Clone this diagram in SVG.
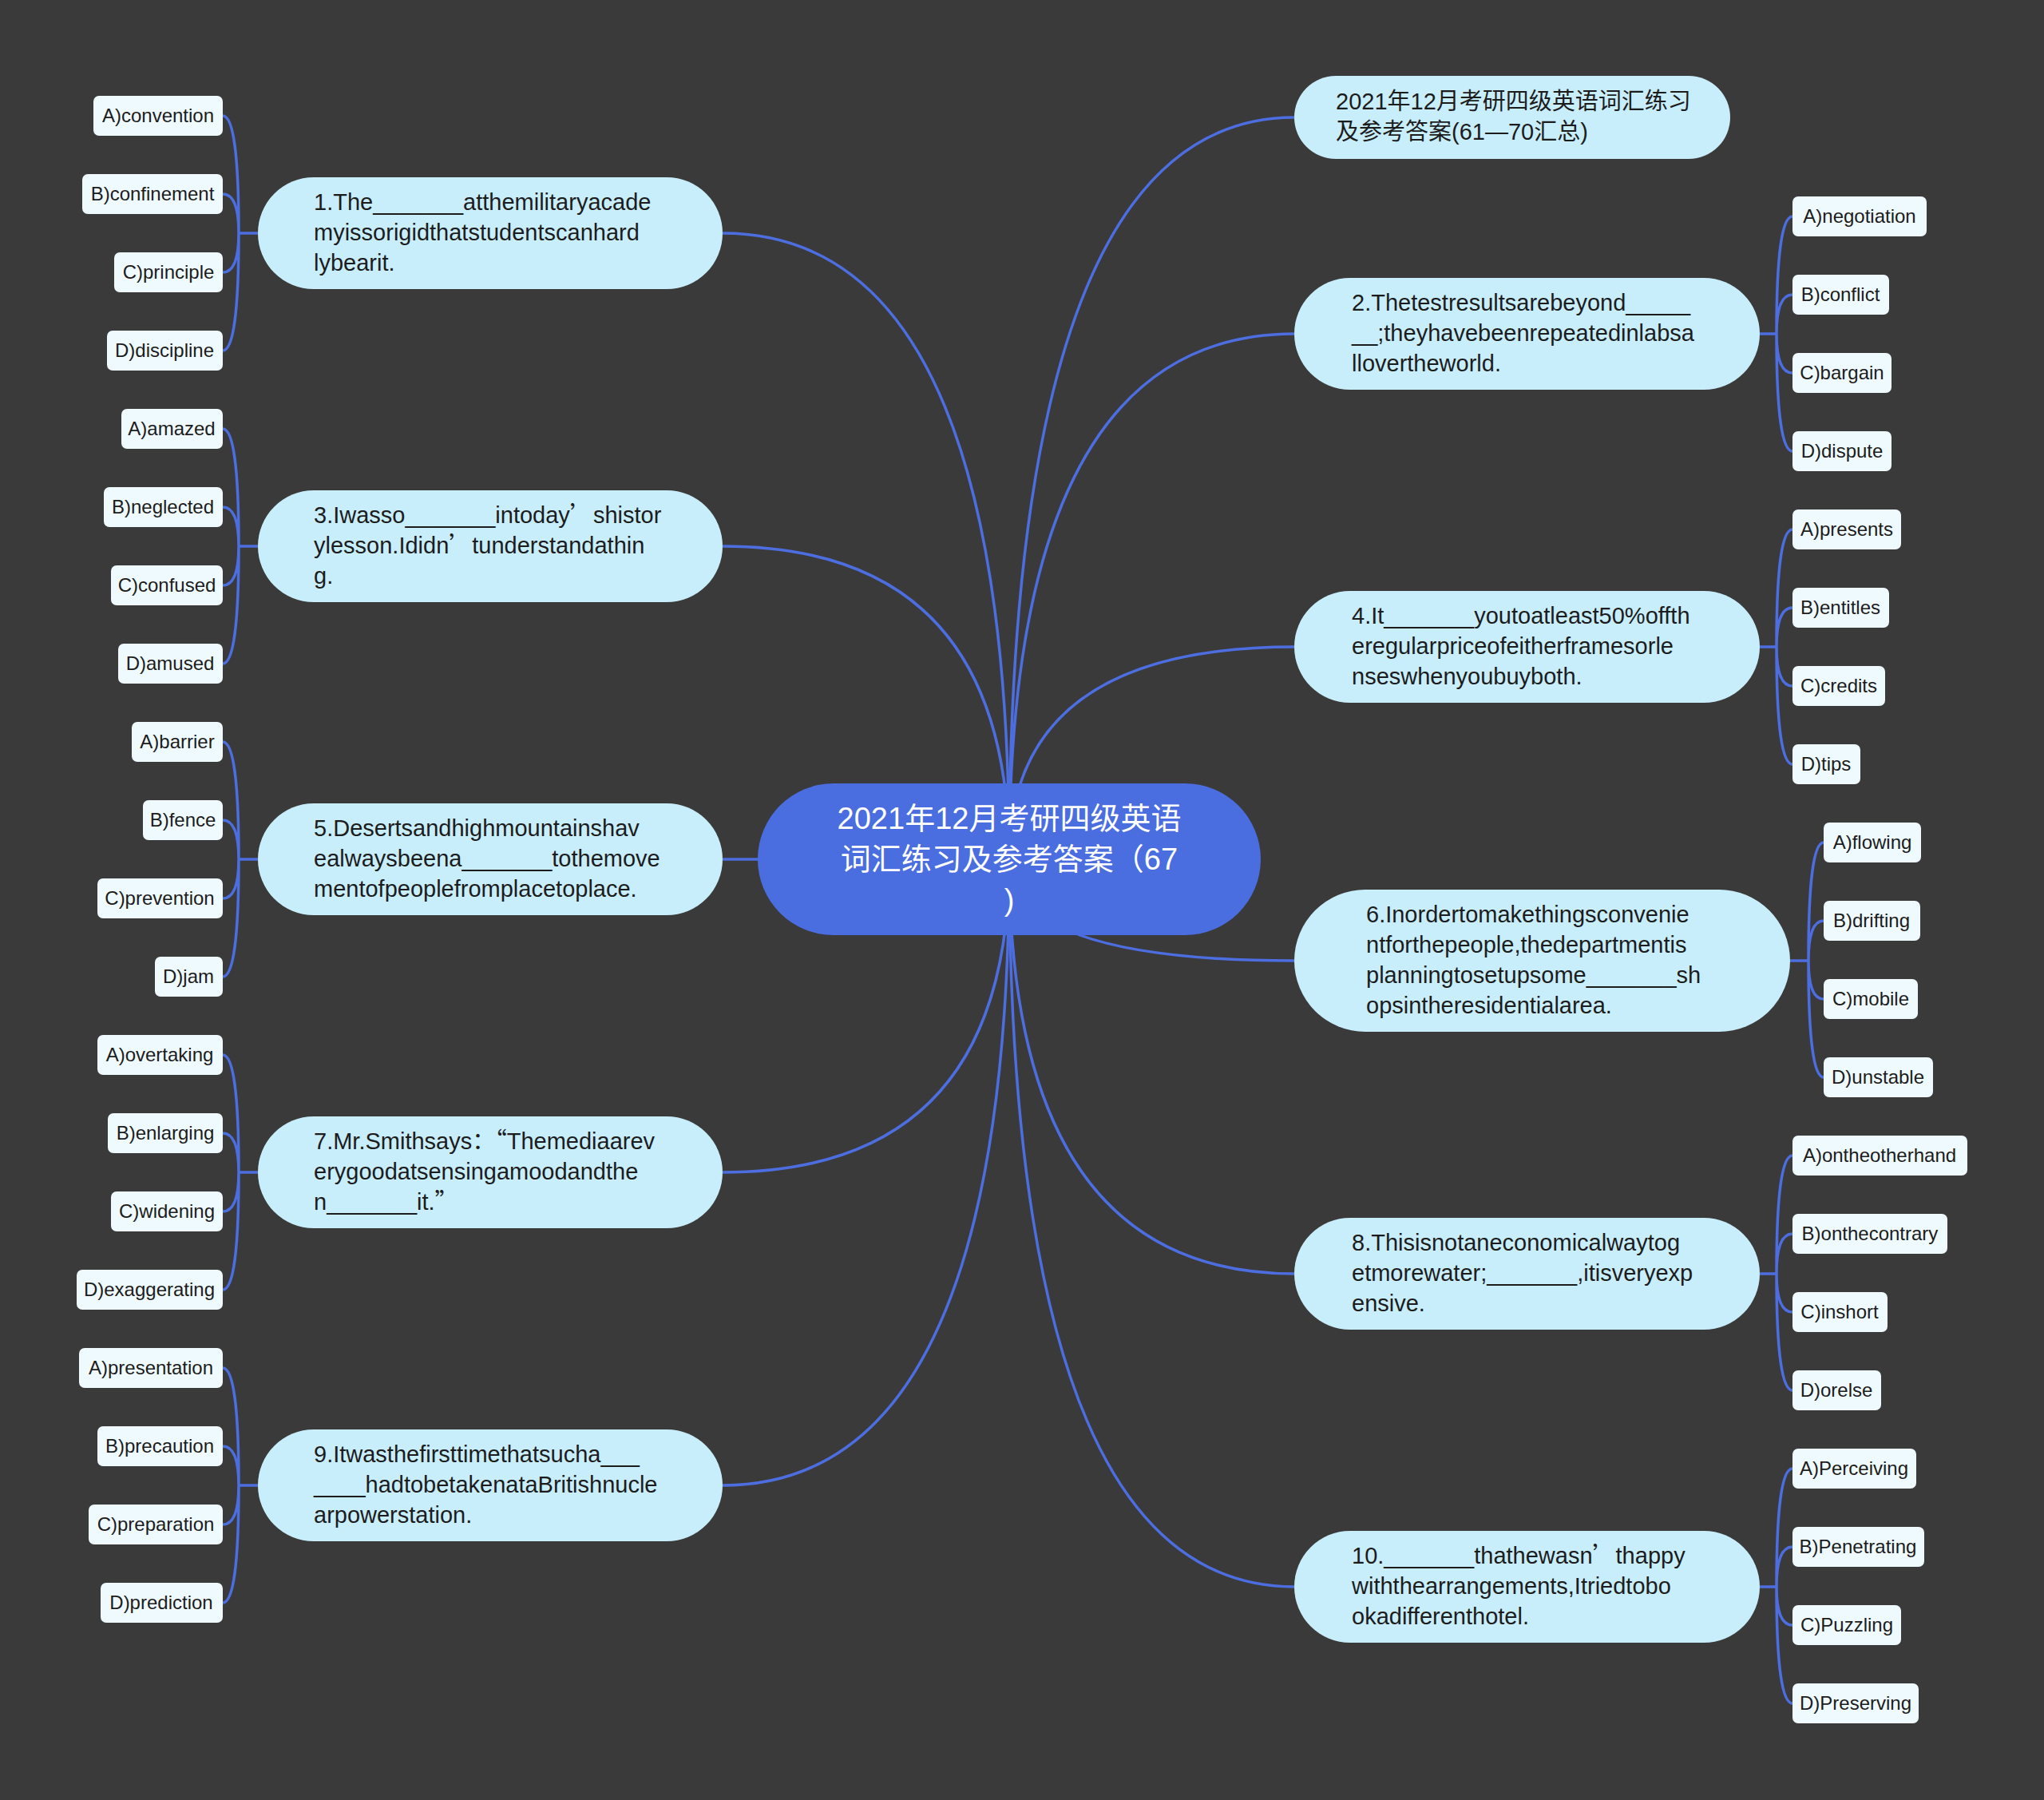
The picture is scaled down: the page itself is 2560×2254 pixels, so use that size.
<svg xmlns="http://www.w3.org/2000/svg" width="2560" height="2254" viewBox="0 0 2560 2254">
<style>
.c{fill:none;stroke:#4D6EE0;stroke-width:3.5}
.n1 rect{fill:#C8EEFC}
.lf rect{fill:#EFFAFE}
text{font-family:"Liberation Sans","Noto Sans CJK SC",sans-serif;fill:#1c1c1c}
.n1 text{font-size:29px}
.lf text{font-size:24px;text-anchor:middle}
.ct text{font-size:38px;fill:#ffffff;text-anchor:middle}
.cjk{font-family:"Noto Sans CJK SC",sans-serif}
</style>
<rect width="2560" height="2254" fill="#3a3a3a"/>
<g id="connectors">
<path class="c" d="M1264,1076 Q1264,292 905,292"/>
<path class="c" d="M1264,1076 Q1264,684 905,684"/>
<path class="c" d="M1264,1076 L905,1076"/>
<path class="c" d="M1264,1076 Q1264,1468 905,1468"/>
<path class="c" d="M1264,1076 Q1264,1860 905,1860"/>
<path class="c" d="M1264,1076 Q1264,147 1621,147"/>
<path class="c" d="M1264,1076 Q1264,418 1621,418"/>
<path class="c" d="M1264,1076 Q1264,810 1621,810"/>
<path class="c" d="M1264,1076 Q1264,1203 1621,1203"/>
<path class="c" d="M1264,1076 Q1264,1595 1621,1595"/>
<path class="c" d="M1264,1076 Q1264,1987 1621,1987"/>
<path class="c" d="M323,292 L299,292 Q299,145 279,145 M299,292 Q299,243 279,243 M299,292 Q299,341 279,341 M299,292 Q299,439 279,439"/>
<path class="c" d="M323,684 L299,684 Q299,537 279,537 M299,684 Q299,635 279,635 M299,684 Q299,733 279,733 M299,684 Q299,831 279,831"/>
<path class="c" d="M323,1076 L299,1076 Q299,929 279,929 M299,1076 Q299,1027 279,1027 M299,1076 Q299,1125 279,1125 M299,1076 Q299,1223 279,1223"/>
<path class="c" d="M323,1468 L299,1468 Q299,1321 279,1321 M299,1468 Q299,1419 279,1419 M299,1468 Q299,1517 279,1517 M299,1468 Q299,1615 279,1615"/>
<path class="c" d="M323,1860 L299,1860 Q299,1713 279,1713 M299,1860 Q299,1811 279,1811 M299,1860 Q299,1909 279,1909 M299,1860 Q299,2007 279,2007"/>
<path class="c" d="M2204,418 L2225,418 Q2225,271 2245,271 M2225,418 Q2225,369 2245,369 M2225,418 Q2225,467 2245,467 M2225,418 Q2225,565 2245,565"/>
<path class="c" d="M2204,810 L2225,810 Q2225,663 2245,663 M2225,810 Q2225,761 2245,761 M2225,810 Q2225,859 2245,859 M2225,810 Q2225,957 2245,957"/>
<path class="c" d="M2242,1203 L2265,1203 Q2265,1055 2284,1055 M2265,1203 Q2265,1153 2284,1153 M2265,1203 Q2265,1251 2284,1251 M2265,1203 Q2265,1349 2284,1349"/>
<path class="c" d="M2204,1595 L2225,1595 Q2225,1447 2245,1447 M2225,1595 Q2225,1545 2245,1545 M2225,1595 Q2225,1643 2245,1643 M2225,1595 Q2225,1741 2245,1741"/>
<path class="c" d="M2204,1987 L2225,1987 Q2225,1839 2245,1839 M2225,1987 Q2225,1937 2245,1937 M2225,1987 Q2225,2035 2245,2035 M2225,1987 Q2225,2133 2245,2133"/>
</g>
<g id="center" class="ct">
<rect x="949" y="981" width="630" height="190" rx="95" fill="#4A6EE0"/>
<text x="1264" y="1038">2021年12月考研四级英语</text>
<text x="1264" y="1089">词汇练习及参考答案（67</text>
<text x="1264" y="1140">)</text>
</g>
<g id="n-title" class="n1"><rect x="1621" y="95" width="546" height="104" rx="52"/>
<text x="1673" y="137">2021年12月考研四级英语词汇练习</text><text x="1673" y="175">及参考答案(61—70汇总)</text></g>
<g id="n1" class="n1"><rect x="323" y="222" width="582" height="140" rx="70"/>
<text x="393" y="263">1.The_______atthemilitaryacade</text><text x="393" y="301">myissorigidthatstudentscanhard</text><text x="393" y="339">lybearit.</text></g>
<g id="n3" class="n1"><rect x="323" y="614" width="582" height="140" rx="70"/>
<text x="393" y="655">3.Iwasso_______intoday<tspan class="cjk">’</tspan>shistor</text><text x="393" y="693">ylesson.Ididn<tspan class="cjk">’</tspan>tunderstandathin</text><text x="393" y="731">g.</text></g>
<g id="n5" class="n1"><rect x="323" y="1006" width="582" height="140" rx="70"/>
<text x="393" y="1047">5.Desertsandhighmountainshav</text><text x="393" y="1085">ealwaysbeena_______tothemove</text><text x="393" y="1123">mentofpeoplefromplacetoplace.</text></g>
<g id="n7" class="n1"><rect x="323" y="1398" width="582" height="140" rx="70"/>
<text x="393" y="1439">7.Mr.Smithsays<tspan class="cjk">：“</tspan>Themediaarev</text><text x="393" y="1477">erygoodatsensingamoodandthe</text><text x="393" y="1515">n_______it.<tspan class="cjk">”</tspan></text></g>
<g id="n9" class="n1"><rect x="323" y="1790" width="582" height="140" rx="70"/>
<text x="393" y="1831">9.Itwasthefirsttimethatsucha___</text><text x="393" y="1869">____hadtobetakenataBritishnucle</text><text x="393" y="1907">arpowerstation.</text></g>
<g id="n2" class="n1"><rect x="1621" y="348" width="583" height="140" rx="70"/>
<text x="1693" y="389">2.Thetestresultsarebeyond_____</text><text x="1693" y="427">__;theyhavebeenrepeatedinlabsa</text><text x="1693" y="465">llovertheworld.</text></g>
<g id="n4" class="n1"><rect x="1621" y="740" width="583" height="140" rx="70"/>
<text x="1693" y="781">4.It_______youtoatleast50%offth</text><text x="1693" y="819">eregularpriceofeitherframesorle</text><text x="1693" y="857">nseswhenyoubuyboth.</text></g>
<g id="n6" class="n1"><rect x="1621" y="1114" width="621" height="178" rx="89"/>
<text x="1711" y="1155">6.Inordertomakethingsconvenie</text><text x="1711" y="1193">ntforthepeople,thedepartmentis</text><text x="1711" y="1231">planningtosetupsome_______sh</text><text x="1711" y="1269">opsintheresidentialarea.</text></g>
<g id="n8" class="n1"><rect x="1621" y="1525" width="583" height="140" rx="70"/>
<text x="1693" y="1566">8.Thisisnotaneconomicalwaytog</text><text x="1693" y="1604">etmorewater;_______,itisveryexp</text><text x="1693" y="1642">ensive.</text></g>
<g id="n10" class="n1"><rect x="1621" y="1917" width="583" height="140" rx="70"/>
<text x="1693" y="1958">10._______thathewasn<tspan class="cjk">’</tspan>thappy</text><text x="1693" y="1996">withthearrangements,Itriedtobo</text><text x="1693" y="2034">okadifferenthotel.</text></g>
<g id="l1a" class="lf"><rect x="117" y="120" width="162" height="50" rx="7"/><text x="198" y="153">A)convention</text></g>
<g id="l1b" class="lf"><rect x="103" y="218" width="176" height="50" rx="7"/><text x="191" y="251">B)confinement</text></g>
<g id="l1c" class="lf"><rect x="143" y="316" width="136" height="50" rx="7"/><text x="211" y="349">C)principle</text></g>
<g id="l1d" class="lf"><rect x="134" y="414" width="145" height="50" rx="7"/><text x="206" y="447">D)discipline</text></g>
<g id="l3a" class="lf"><rect x="152" y="512" width="127" height="50" rx="7"/><text x="215" y="545">A)amazed</text></g>
<g id="l3b" class="lf"><rect x="130" y="610" width="149" height="50" rx="7"/><text x="204" y="643">B)neglected</text></g>
<g id="l3c" class="lf"><rect x="139" y="708" width="140" height="50" rx="7"/><text x="209" y="741">C)confused</text></g>
<g id="l3d" class="lf"><rect x="148" y="806" width="131" height="50" rx="7"/><text x="213" y="839">D)amused</text></g>
<g id="l5a" class="lf"><rect x="165" y="904" width="114" height="50" rx="7"/><text x="222" y="937">A)barrier</text></g>
<g id="l5b" class="lf"><rect x="179" y="1002" width="100" height="50" rx="7"/><text x="229" y="1035">B)fence</text></g>
<g id="l5c" class="lf"><rect x="122" y="1100" width="157" height="50" rx="7"/><text x="200" y="1133">C)prevention</text></g>
<g id="l5d" class="lf"><rect x="194" y="1198" width="85" height="50" rx="7"/><text x="236" y="1231">D)jam</text></g>
<g id="l7a" class="lf"><rect x="122" y="1296" width="157" height="50" rx="7"/><text x="200" y="1329">A)overtaking</text></g>
<g id="l7b" class="lf"><rect x="135" y="1394" width="144" height="50" rx="7"/><text x="207" y="1427">B)enlarging</text></g>
<g id="l7c" class="lf"><rect x="139" y="1492" width="140" height="50" rx="7"/><text x="209" y="1525">C)widening</text></g>
<g id="l7d" class="lf"><rect x="96" y="1590" width="183" height="50" rx="7"/><text x="187" y="1623">D)exaggerating</text></g>
<g id="l9a" class="lf"><rect x="99" y="1688" width="180" height="50" rx="7"/><text x="189" y="1721">A)presentation</text></g>
<g id="l9b" class="lf"><rect x="122" y="1786" width="157" height="50" rx="7"/><text x="200" y="1819">B)precaution</text></g>
<g id="l9c" class="lf"><rect x="111" y="1884" width="168" height="50" rx="7"/><text x="195" y="1917">C)preparation</text></g>
<g id="l9d" class="lf"><rect x="126" y="1982" width="153" height="50" rx="7"/><text x="202" y="2015">D)prediction</text></g>
<g id="r2a" class="lf"><rect x="2245" y="246" width="168" height="50" rx="7"/><text x="2329" y="279">A)negotiation</text></g>
<g id="r2b" class="lf"><rect x="2245" y="344" width="121" height="50" rx="7"/><text x="2305" y="377">B)conflict</text></g>
<g id="r2c" class="lf"><rect x="2245" y="442" width="124" height="50" rx="7"/><text x="2307" y="475">C)bargain</text></g>
<g id="r2d" class="lf"><rect x="2245" y="540" width="124" height="50" rx="7"/><text x="2307" y="573">D)dispute</text></g>
<g id="r4a" class="lf"><rect x="2245" y="638" width="136" height="50" rx="7"/><text x="2313" y="671">A)presents</text></g>
<g id="r4b" class="lf"><rect x="2245" y="736" width="121" height="50" rx="7"/><text x="2305" y="769">B)entitles</text></g>
<g id="r4c" class="lf"><rect x="2245" y="834" width="116" height="50" rx="7"/><text x="2303" y="867">C)credits</text></g>
<g id="r4d" class="lf"><rect x="2245" y="932" width="85" height="50" rx="7"/><text x="2287" y="965">D)tips</text></g>
<g id="r6a" class="lf"><rect x="2284" y="1030" width="122" height="50" rx="7"/><text x="2345" y="1063">A)flowing</text></g>
<g id="r6b" class="lf"><rect x="2284" y="1128" width="121" height="50" rx="7"/><text x="2344" y="1161">B)drifting</text></g>
<g id="r6c" class="lf"><rect x="2284" y="1226" width="118" height="50" rx="7"/><text x="2343" y="1259">C)mobile</text></g>
<g id="r6d" class="lf"><rect x="2284" y="1324" width="137" height="50" rx="7"/><text x="2352" y="1357">D)unstable</text></g>
<g id="r8a" class="lf"><rect x="2245" y="1422" width="219" height="50" rx="7"/><text x="2354" y="1455">A)ontheotherhand</text></g>
<g id="r8b" class="lf"><rect x="2245" y="1520" width="194" height="50" rx="7"/><text x="2342" y="1553">B)onthecontrary</text></g>
<g id="r8c" class="lf"><rect x="2245" y="1618" width="119" height="50" rx="7"/><text x="2304" y="1651">C)inshort</text></g>
<g id="r8d" class="lf"><rect x="2245" y="1716" width="111" height="50" rx="7"/><text x="2300" y="1749">D)orelse</text></g>
<g id="r10a" class="lf"><rect x="2245" y="1814" width="155" height="50" rx="7"/><text x="2322" y="1847">A)Perceiving</text></g>
<g id="r10b" class="lf"><rect x="2245" y="1912" width="165" height="50" rx="7"/><text x="2327" y="1945">B)Penetrating</text></g>
<g id="r10c" class="lf"><rect x="2245" y="2010" width="136" height="50" rx="7"/><text x="2313" y="2043">C)Puzzling</text></g>
<g id="r10d" class="lf"><rect x="2245" y="2108" width="158" height="50" rx="7"/><text x="2324" y="2141">D)Preserving</text></g>
</svg>
